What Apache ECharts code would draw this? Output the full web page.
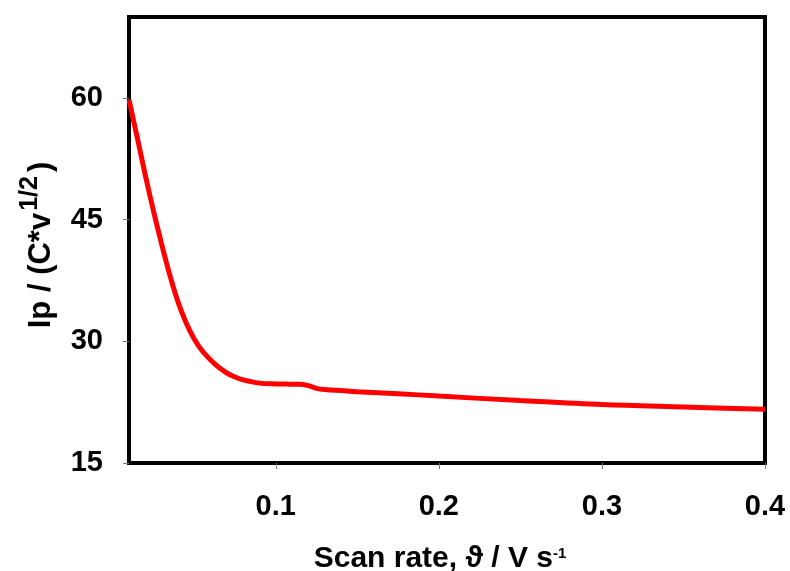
<!DOCTYPE html>
<html>
<head>
<meta charset="utf-8">
<script src="https://cdn.jsdelivr.net/npm/echarts@6/dist/echarts.min.js"></script>
<style>
  html, body { margin: 0; padding: 0; background: #fff; }
  #chart { width: 790px; height: 571px; }
</style>
</head>
<body>
<div id="chart"></div>
<script>
// Scan rate (V/s) and normalised peak current Ip / (C*v^1/2)
const scanRate = [0.01, 0.015, 0.02, 0.025, 0.03, 0.035, 0.04, 0.045, 0.05, 0.055,
  0.06, 0.065, 0.07, 0.075, 0.08, 0.09, 0.1, 0.11, 0.115, 0.12, 0.125, 0.13,
  0.15, 0.175, 0.2, 0.25, 0.3, 0.35, 0.4];
const ipNorm = [59.8, 55.2, 50.5, 46.1, 42.0, 38.2, 34.9, 32.3, 30.3, 28.8,
  27.7, 26.8, 26.1, 25.6, 25.25, 24.85, 24.75, 24.72, 24.7, 24.55, 24.2, 24.05,
  23.8, 23.55, 23.25, 22.7, 22.2, 21.9, 21.62];

const xTicks = [0.1, 0.2, 0.3, 0.4];
const yTicks = [15, 30, 45, 60];

const FONT = '"Liberation Sans", Arial, sans-serif';

const chart = echarts.init(document.getElementById('chart'), null, { renderer: 'canvas' });

chart.setOption({
  animation: false,
  backgroundColor: '#ffffff',
  grid: {
    left: 129, right: 25, top: 17, bottom: 108,
    outerBoundsMode: 'none',
    containLabel: false,
    show: true, borderColor: '#000', borderWidth: 4, backgroundColor: 'transparent'
  },
  xAxis: {
    type: 'value',
    min: 0.01, max: 0.4,
    splitLine: { show: false },
    axisLine: { show: false },
    axisTick: { show: true, customValues: xTicks, length: 6, inside: false,
      lineStyle: { color: '#777', width: 1 } },
    axisLabel: { customValues: xTicks, margin: 29, color: '#000',
      fontFamily: FONT, fontWeight: 'bold', fontSize: 29,
      formatter: v => String(v) },
    name: '{n|Scan rate, ϑ / V s}{s|-1}',
    nameLocation: 'middle',
    nameGap: 81,
    nameTextStyle: {
      padding: [0, 14, 0, 0],
      rich: {
        n: { fontFamily: FONT, fontWeight: 'bold', fontSize: 30, color: '#000',
          lineHeight: 30, verticalAlign: 'bottom' },
        s: { fontFamily: FONT, fontWeight: 'bold', fontSize: 15, color: '#000',
          lineHeight: 15, padding: [0, 0, 13, 0], verticalAlign: 'bottom' }
      }
    }
  },
  yAxis: {
    type: 'value',
    min: 15, max: 70,
    splitLine: { show: false },
    axisLine: { show: false },
    axisTick: { show: true, customValues: yTicks, length: 6, inside: false,
      lineStyle: { color: '#777', width: 1 } },
    axisLabel: { customValues: yTicks, margin: 26, color: '#000',
      fontFamily: FONT, fontWeight: 'bold', fontSize: 29 },
    name: '{n|Ip / (C*v}{s|1/2}{n|)}',
    nameLocation: 'middle',
    nameGap: 72,
    nameRotate: 90,
    nameTextStyle: {
      padding: [0, 10, 0, 0],
      rich: {
        n: { fontFamily: FONT, fontWeight: 'bold', fontSize: 31, color: '#000',
          lineHeight: 31, verticalAlign: 'bottom' },
        s: { fontFamily: FONT, fontWeight: 'bold', fontSize: 25, color: '#000',
          lineHeight: 25, padding: [0, 4, 14, 2], verticalAlign: 'bottom' }
      }
    }
  },
  series: [{
    type: 'line',
    data: scanRate.map((x, i) => [x, ipNorm[i]]),
    smooth: 0.35,
    symbol: 'none',
    lineStyle: { color: '#ff0000', width: 5 },
    clip: true
  }]
});
</script>
</body>
</html>
